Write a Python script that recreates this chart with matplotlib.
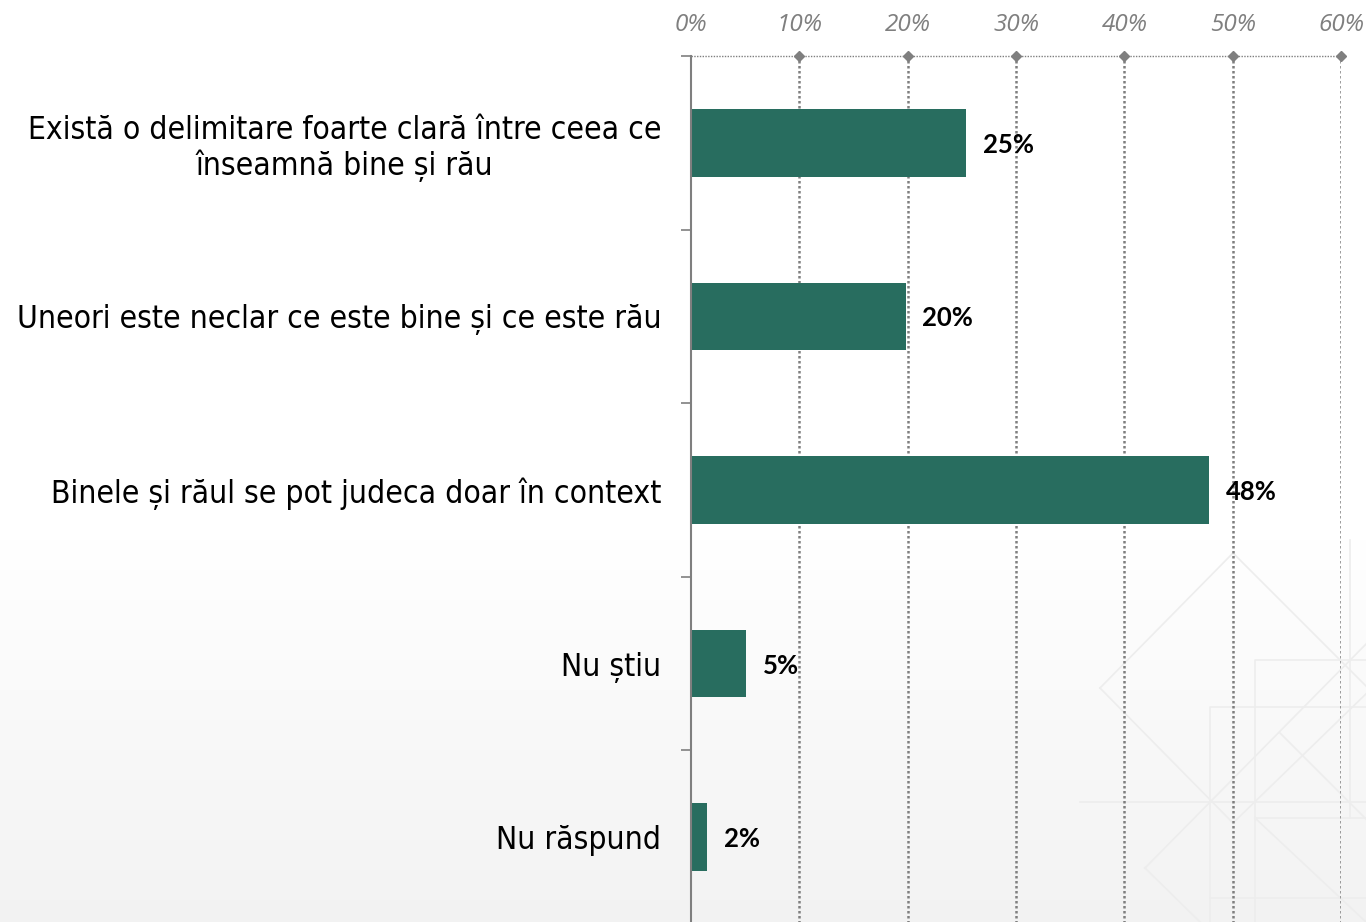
import numpy as np
import matplotlib
matplotlib.use("Agg")
import matplotlib.pyplot as plt

# ---- data ----
categories = [
    "Există o delimitare foarte clară între ceea ce\nînseamnă bine și rău",
    "Uneori este neclar ce este bine și ce este rău",
    "Binele și răul se pot judeca doar în context",
    "Nu știu",
    "Nu răspund",
]
values = [25.4, 19.8, 47.8, 5.1, 1.5]
value_labels = ["25%", "20%", "48%", "5%", "2%"]
x_ticks = [0, 10, 20, 30, 40, 50, 60]
x_tick_labels = ["0%", "10%", "20%", "30%", "40%", "50%", "60%"]

BAR = "#286D5F"
GRID = "#7F7F7F"

fig = plt.figure(figsize=(13.66, 9.22), dpi=100)

# background gradient + faint decoration
bg = fig.add_axes([0, 0, 1, 1], zorder=-10)
bg.set_axis_off()
yy = np.arange(922)
col = np.where(yy < 540, 1.0, 1.0 - 0.05 * ((yy - 540) / 382.0))
grad = np.repeat(col[:, None], 2, axis=1)
bg.imshow(np.dstack([grad, grad, grad]), aspect="auto", extent=[0, 1366, 922, 0],
          vmin=0, vmax=1)
bg.set_xlim(0, 1366)
bg.set_ylim(922, 0)
deco = "#EDEDED"
shapes = [
    [(1100, 688), (1233, 553), (1370, 690), (1233, 823), (1100, 688)],
    [(1145, 868), (1370, 640)],
    [(1280, 733), (1370, 823)],
    [(1210, 922), (1210, 707), (1370, 707)],
    [(1255, 922), (1255, 660), (1370, 660)],
    [(1255, 818), (1370, 818)],
    [(1080, 802), (1366, 802)],
    [(1255, 818), (1366, 922)],
    [(1145, 868), (1200, 922)],
    [(1210, 898), (1366, 898)],
    [(1350, 540), (1350, 818)],
]
for s in shapes:
    xs, ys = zip(*s)
    bg.plot(xs, ys, color=deco, lw=1.2, zorder=0)

ax = fig.add_axes([691 / 1366, -2 / 922, 650 / 1366, 868 / 922])
ax.patch.set_alpha(0)

ypos = np.arange(len(categories))
ax.barh(ypos, values, height=0.39, color=BAR, zorder=3)

ax.set_xlim(0, 60)
ax.set_ylim(len(categories) - 0.5, -0.5)

# grid
for x in x_ticks[1:]:
    ax.axvline(x, color=GRID, lw=1.8, ls=(0, (1, 1.0)), zorder=1)
ax.plot([0, 60], [-0.5, -0.5], color=GRID, lw=1.0, ls=(0, (1, 1)), clip_on=False, zorder=2)
ax.plot(x_ticks[1:], [-0.5] * (len(x_ticks) - 1), ls="none", marker="D", ms=5.5,
        color=GRID, clip_on=False, zorder=4)

# x axis on top
ax.xaxis.tick_top()
ax.set_xticks(x_ticks)
ax.set_xticklabels(x_tick_labels, fontsize=17.5, style="italic", color=GRID,
                   family="Open Sans")
ax.tick_params(axis="x", length=0, pad=14)

# y axis
ax.set_yticks(ypos)
ax.set_yticklabels(categories, fontsize=22.8, family="DejaVu Sans", stretch="condensed",
                   ha="right", color="#000000", linespacing=1.15)
for lbl in ax.get_yticklabels():
    lbl.set_multialignment("center")
ax.tick_params(axis="y", which="major", length=0, pad=21.5)
ax.set_yticks(np.arange(-0.5, len(categories), 1.0), minor=True)
ax.tick_params(axis="y", which="minor", length=7.5, color=GRID, width=1.2, direction="out")

for sp in ["top", "right", "bottom"]:
    ax.spines[sp].set_visible(False)
ax.spines["left"].set_color(GRID)
ax.spines["left"].set_linewidth(1.5)
ax.spines["left"].set_zorder(5)

for y, v, t in zip(ypos, values, value_labels):
    ax.annotate(t, (v, y), xytext=(12, -1.5), textcoords="offset points",
                ha="left", va="center", fontsize=18.5, fontweight="bold",
                family="Lato", color="#000000", zorder=5)

fig.savefig("out.png", dpi=100)
